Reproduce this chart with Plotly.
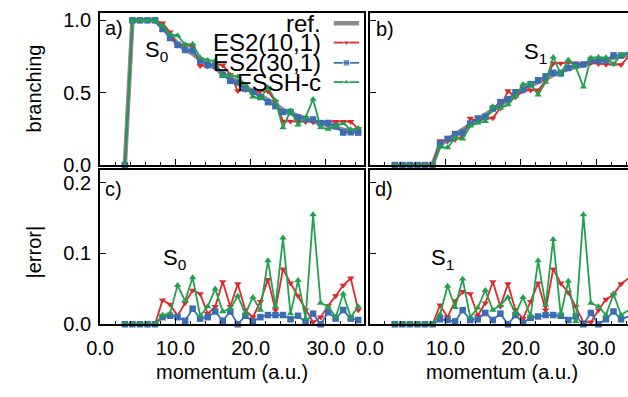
import plotly.graph_objects as go

# ---------------- data ----------------
momentum = [3.3, 4.3, 5.3, 6.3, 7.3, 8.3, 9.3, 10.3, 11.3, 12.3, 13.3, 14.3, 15.3, 16.3,
            17.3, 18.3, 19.3, 20.3, 21.3, 22.3, 23.3, 24.3, 25.3, 26.3, 27.3, 28.3, 29.3,
            30.3, 31.3, 32.3, 33.3, 34.3]

ref_s0 = [0, 1, 1, 1, 1, .95, .89, .84, .80, .77, .73, .70, .67, .63, .60, .57, .54, .51,
          .48, .447, .42, .38, .36, .34, .32, .30, .29, .274, .26, .245, .235, .23]
es10_s0 = [0, 1, 1, 1, 1, .98, .918, .828, .83, .818, .687, .685, .695, .69, .625, .513, .52,
           .50, .512, .51, .44, .302, .302, .30, .30, .297, .30, .30, .30, .30, .30, .25]
es30_s0 = [0, 1, 1, 1, 1, .94, .878, .83, .795, .792, .722, .69, .688, .625, .582, .57, .528,
           .506, .47, .434, .407, .367, .367, .328, .317, .315, .29, .291, .268, .225, .227, .224]
fssh_s0 = [0, 1, 1, 1, 1, .963, .905, .895, .833, .836, .742, .725, .72, .612, .622, .61, .555,
           .472, .46, .537, .445, .258, .375, .278, .328, .455, .26, .249, .27, .288, .245, .255]

ref_s1 = [0, 0, 0, 0, 0, 0, .14, .175, .21, .245, .28, .315, .35, .385, .42, .455, .49, .52,
          .55, .575, .60, .625, .645, .665, .68, .695, .71, .72, .73, .74, .75, .76]
es10_s1 = [0, 0, 0, 0, 0, 0, .167, .165, .177, .199, .323, .303, .32, .325, .395, .512, .47,
           .512, .518, .517, .58, .703, .703, .71, .705, .698, .707, .70, .695, .698, .693, .75]
es30_s1 = [0, 0, 0, 0, 0, 0, .147, .181, .214, .225, .286, .322, .334, .391, .435, .455, .503,
           .522, .559, .586, .613, .638, .633, .671, .691, .695, .726, .72, .723, .758, .757, .771]
fssh_s1 = [0, 0, 0, 0, 0, 0, .126, .121, .186, .181, .27, .292, .302, .405, .393, .417, .475,
           .558, .562, .485, .573, .745, .632, .726, .676, .54, .74, .745, .743, .697, .763, .78]

err10_s0 = [0, 0, 0, 0, 0, .034, .028, .012, .03, .048, .043, .015, .025, .06, .025, .057, .02,
            .01, .032, .063, .02, .078, .058, .04, .02, .003, .01, .026, .04, .055, .065, .02]
err30_s0 = [0, 0, 0, 0, 0, .01, .012, .01, .005, .022, .008, .01, .018, .005, .018, .0, .012,
            .004, .01, .013, .013, .013, .007, .012, .003, .015, .0, .017, .008, .02, .008, .006]
errfs_s0 = [0, 0, 0, 0, 0, .013, .015, .055, .033, .066, .012, .025, .05, .018, .022, .04, .015,
            .038, .02, .09, .025, .122, .015, .062, .008, .155, .03, .025, .01, .043, .01, .025]

err10_s1 = [0, 0, 0, 0, 0, 0, .027, .01, .033, .046, .043, .012, .03, .06, .025, .057, .02,
            .008, .032, .058, .02, .078, .058, .045, .025, .003, .003, .02, .035, .042, .057, .065]
err30_s1 = [0, 0, 0, 0, 0, 0, .007, .006, .004, .02, .006, .007, .016, .006, .015, .0, .013,
            .002, .009, .011, .013, .013, .012, .006, .011, .0, .016, .0, .007, .018, .007, .011]
errfs_s1 = [0, 0, 0, 0, 0, 0, .014, .054, .024, .064, .01, .023, .048, .02, .027, .038, .015,
            .038, .012, .09, .027, .12, .013, .061, .004, .155, .03, .025, .013, .043, .013, .02]

series_names = ["ref.", "ES2(10,1)", "ES2(30,1)", "FSSH-c"]

# ---------------- styles ----------------
W, H = 628, 397
FONT = "Liberation Sans, Arial, Helvetica, sans-serif"
GRAY = "#8c8c8c"
RED = "#dc2a2c"
BLUE = "#3b6db3"
GREEN = "#22a04e"
styles = {
    "ES2(10,1)": dict(color=RED, symbol="triangle-down"),
    "ES2(30,1)": dict(color=BLUE, symbol="square"),
    "FSSH-c": dict(color=GREEN, symbol="triangle-up"),
}

def px(p):
    return p / W

def py(p):
    return 1 - p / H

fig = go.Figure()

def add_ref(y, xa, ya):
    fig.add_trace(go.Scatter(x=momentum, y=y, mode="lines", xaxis=xa, yaxis=ya,
                             line=dict(color=GRAY, width=4.5), showlegend=False,
                             cliponaxis=False))

def add_series(name, y, xa, ya):
    st = styles[name]
    fig.add_trace(go.Scatter(x=momentum, y=y, mode="lines+markers", xaxis=xa, yaxis=ya,
                             line=dict(color=st["color"], width=1.8),
                             marker=dict(symbol=st["symbol"], size=6.5, color=st["color"]),
                             showlegend=False, cliponaxis=False))

add_ref(ref_s0, "x", "y")
add_series("ES2(10,1)", es10_s0, "x", "y")
add_series("ES2(30,1)", es30_s0, "x", "y")
add_series("FSSH-c", fssh_s0, "x", "y")

add_ref(ref_s1, "x2", "y2")
add_series("ES2(10,1)", es10_s1, "x2", "y2")
add_series("ES2(30,1)", es30_s1, "x2", "y2")
add_series("FSSH-c", fssh_s1, "x2", "y2")

add_series("ES2(10,1)", err10_s0, "x3", "y3")
add_series("ES2(30,1)", err30_s0, "x3", "y3")
add_series("FSSH-c", errfs_s0, "x3", "y3")

add_series("ES2(10,1)", err10_s1, "x4", "y4")
add_series("ES2(30,1)", err30_s1, "x4", "y4")
add_series("FSSH-c", errfs_s1, "x4", "y4")

# legend samples (pixel-coordinate overlay axis)
leg_y = [21, 41, 62, 82]
leg_x0, leg_x1 = 327, 353
fig.add_trace(go.Scatter(x=[leg_x0, leg_x1], y=[leg_y[0]] * 2, mode="lines", xaxis="x5", yaxis="y5",
                         line=dict(color=GRAY, width=4.5), showlegend=False))
for name, yy in zip(series_names[1:], leg_y[1:]):
    st = styles[name]
    fig.add_trace(go.Scatter(x=[leg_x0, (leg_x0 + leg_x1) / 2, leg_x1], y=[yy] * 3,
                             mode="lines+markers", xaxis="x5", yaxis="y5",
                             line=dict(color=st["color"], width=1.8),
                             marker=dict(symbol=st["symbol"], size=[0, 6.5, 0], color=st["color"]),
                             showlegend=False))

tickfont = dict(family=FONT, size=20, color="black")
common_x = dict(ticks="inside", ticklen=6, tickwidth=1, tickcolor="black",
                tickmode="linear", tick0=0, dtick=10, tickformat=".1f",
                minor=dict(dtick=2, ticks="inside", ticklen=3, tickcolor="black", tickwidth=1),
                showgrid=False, zeroline=False, showline=True, linecolor="black", linewidth=2,
                mirror=True, tickfont=tickfont, ticklabelstandoff=5)
common_y = dict(ticks="inside", ticklen=6, tickwidth=1, tickcolor="black", tickformat=".1f",
                tickmode="linear", tick0=0,
                showgrid=False, zeroline=False, showline=True, linecolor="black", linewidth=2,
                tickfont=tickfont, ticklabelstandoff=3)

xa_dom = [px(88), px(357.5)]
xb_dom = [px(364), 1.0]
ytop_dom = [py(168), py(10)]
ybot_dom = [py(333), py(173)]
xb_max = (628 - 364) / 7.715

fig.update_layout(
    width=W, height=H, margin=dict(l=0, r=0, t=0, b=0),
    paper_bgcolor="white", plot_bgcolor="rgba(0,0,0,0)",
    font=dict(family=FONT, size=20, color="black"),
    xaxis=dict(common_x, domain=xa_dom, range=[0, 35], anchor="y", showticklabels=False),
    yaxis=dict(common_y, domain=ytop_dom, range=[0, 1.053], dtick=0.5, anchor="x", mirror=True),
    xaxis2=dict(common_x, domain=xb_dom, range=[0, xb_max], anchor="y2", showticklabels=False),
    yaxis2=dict(common_y, domain=ytop_dom, range=[0, 1.053], dtick=0.5, anchor="x2",
                showticklabels=False, mirror=False),
    xaxis3=dict(common_x, domain=xa_dom, range=[0, 35], anchor="y3"),
    yaxis3=dict(common_y, domain=ybot_dom, range=[0, 0.218], dtick=0.1, anchor="x3", mirror=True),
    xaxis4=dict(common_x, domain=xb_dom, range=[0, xb_max], anchor="y4"),
    yaxis4=dict(common_y, domain=ybot_dom, range=[0, 0.218], dtick=0.1, anchor="x4",
                showticklabels=False, mirror=False),
    xaxis5=dict(domain=[0, 1], range=[0, W], visible=False, fixedrange=True, anchor="y5"),
    yaxis5=dict(domain=[0, 1], range=[H, 0], visible=False, fixedrange=True, anchor="x5"),
)

ann = []
def a(text, x, y, size=20, xanchor="center", yanchor="middle", angle=0, xref="paper", yref="paper"):
    ann.append(dict(text=text, x=x, y=y, xref=xref, yref=yref, showarrow=False,
                    xanchor=xanchor, yanchor=yanchor, textangle=angle,
                    font=dict(family=FONT, size=size, color="black")))

a("branching", px(20), py(89), angle=-90)
a("|error|", px(20), py(258), angle=-90)
a("momentum (a.u.)", 17.5, py(383), xref="x3")
a("momentum (a.u.)", 17.5, py(383), xref="x4")
a("a)", px(91), py(26), xanchor="left")
a("b)", px(368), py(27), xanchor="left")
a("c)", px(91), py(193), xanchor="left")
a("d)", px(367), py(193), xanchor="left")
a("S<sub>0</sub>", px(146), py(50), size=22)
a("S<sub>1</sub>", px(533), py(52), size=22)
a("S<sub>0</sub>", px(164), py(265), size=22)
a("S<sub>1</sub>", px(438), py(265), size=22)
for name, yy in zip(series_names, leg_y):
    a(name, px(316), py(yy), size=24, xanchor="right")
fig.update_layout(annotations=ann)

fig.write_html("out.html")
